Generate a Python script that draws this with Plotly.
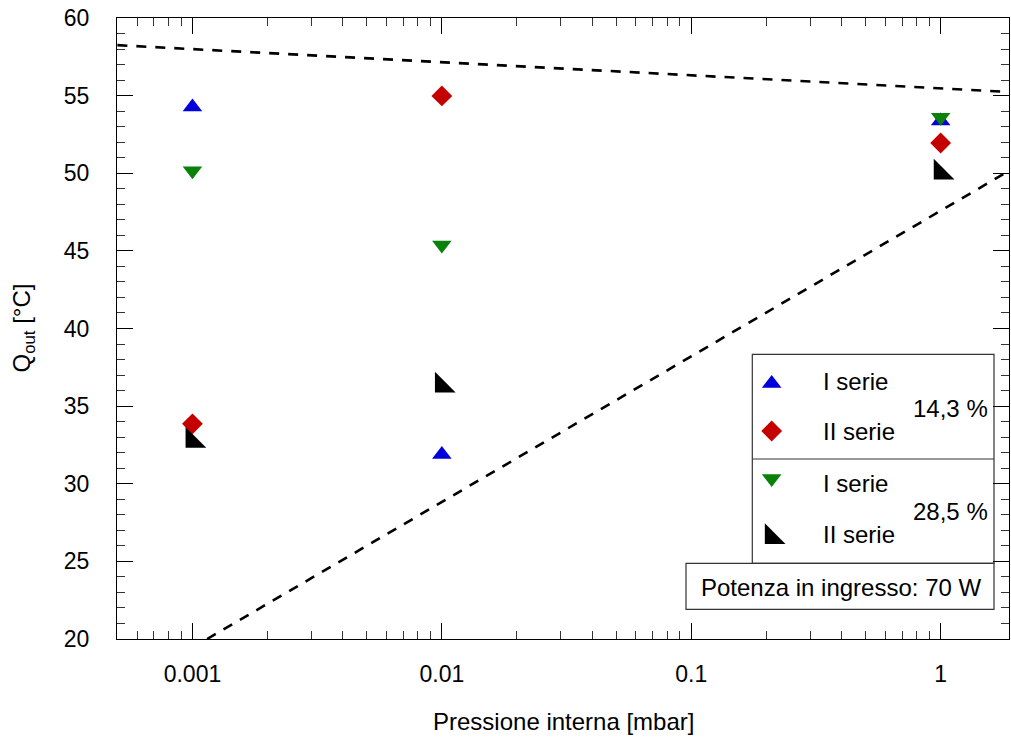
import math
import plotly.graph_objects as go

# ---------------- data ----------------
pressione = [0.001, 0.01, 1]                  # mbar
serie_I_143 = [54.26, 31.89, 53.36]           # I serie, 14,3 %
serie_II_143 = [33.86, 54.98, 51.95]          # II serie, 14,3 %
serie_I_285 = [50.16, 45.38, 53.60]           # I serie, 28,5 %
serie_II_285 = [32.77, 36.32, 50.04]          # II serie, 28,5 %

upper_x = [0.0005, 1.9]
upper_y = [58.25, 55.23]
lower_x = [0.001145, 1.9]
lower_y = [20.0, 50.2]

x_tickvals = [0.001, 0.01, 0.1, 1]
x_ticktext = ["0.001", "0.01", "0.1", "1"]

# ---------------- geometry ----------------
W, H = 1011, 740
L, R, T, B = 117, 1009, 18, 639
FONT = "Liberation Sans, Arial, Helvetica, sans-serif"
FS = 23     # tick labels
FA = 24     # legend / titles

def fx(p):
    return (p - L) / (R - L)

def fy(p):
    return (B - p) / (B - T)

BLUE = "#0000dd"
RED = "#c40000"
GREEN = "#0a820a"
BLACK = "#000000"

fig = go.Figure()

fig.add_trace(go.Scatter(x=upper_x, y=upper_y, mode="lines",
                         line=dict(color="black", width=2.6, dash="10px,9px"),
                         showlegend=False, hoverinfo="skip"))
fig.add_trace(go.Scatter(x=lower_x, y=lower_y, mode="lines",
                         line=dict(color="black", width=2.6, dash="10px,9px"),
                         showlegend=False, hoverinfo="skip"))

series = [
    ("I serie 14,3 %", serie_I_143, "triangle-up", BLUE, 17),
    ("II serie 14,3 %", serie_II_143, "diamond", RED, 16),
    ("I serie 28,5 %", serie_I_285, "triangle-down", GREEN, 17),
    ("II serie 28,5 %", serie_II_285, "triangle-sw", BLACK, 23),
]
for name, vals, sym, col, sz in series:
    fig.add_trace(go.Scatter(x=pressione, y=vals, mode="markers", name=name,
                             marker=dict(symbol=sym, color=col, size=sz, line=dict(width=0)),
                             showlegend=False))

# ---------------- custom legend ----------------
leg_marker_x = 771.7
leg_marker_y = [383.4, 431.0, 478.6, 537.0]
for (name, vals, sym, col, sz), py in zip(series, leg_marker_y):
    fig.add_trace(go.Scatter(x=[fx(leg_marker_x)], y=[fy(py)], xaxis="x2", yaxis="y2",
                             mode="markers", showlegend=False, hoverinfo="skip",
                             marker=dict(symbol=sym, color=col, size=sz, line=dict(width=0))))

shapes = [
    dict(type="rect", xref="paper", yref="paper", x0=fx(752.3), x1=fx(994), y0=fy(563.3), y1=fy(354.3),
         line=dict(color="#333333", width=1.2), fillcolor="white", layer="below"),
    dict(type="line", xref="paper", yref="paper", x0=fx(752.3), x1=fx(994), y0=fy(459), y1=fy(459),
         line=dict(color="#333333", width=1.2)),
    dict(type="rect", xref="paper", yref="paper", x0=fx(686), x1=fx(994), y0=fy(609.3), y1=fy(563.3),
         line=dict(color="#333333", width=1.2), fillcolor="white", layer="below"),
]

ann = []
leg_text = ["I serie", "II serie", "I serie", "II serie"]
leg_text_y = [382, 431.6, 483, 534]
for t, py in zip(leg_text, leg_text_y):
    ann.append(dict(text=t, x=fx(821), y=fy(py), xref="paper", yref="paper",
                    xanchor="left", yanchor="middle", showarrow=False,
                    font=dict(family=FONT, size=FA, color="black")))
for t, py in [("14,3 %", 408.3), ("28,5 %", 511.7)]:
    ann.append(dict(text=t, x=fx(990), y=fy(py), xref="paper", yref="paper",
                    xanchor="right", yanchor="middle", showarrow=False,
                    font=dict(family=FONT, size=FA, color="black")))
ann.append(dict(text="Potenza in ingresso: 70 W", x=fx(841), y=fy(587), xref="paper", yref="paper",
                xanchor="center", yanchor="middle", showarrow=False,
                font=dict(family=FONT, size=FA, color="black")))
ann.append(dict(text="Pressione interna [mbar]", x=0.5, y=fy(721), xref="paper", yref="paper",
                xanchor="center", yanchor="middle", showarrow=False,
                font=dict(family=FONT, size=FA, color="black")))
ann.append(dict(text="Q<sub>out</sub> [°C]", x=fx(23), y=0.5, xref="paper", yref="paper",
                xanchor="center", yanchor="middle", showarrow=False, textangle=-90,
                font=dict(family=FONT, size=FA, color="black")))

minor_x = [k * 10 ** e for e in range(-4, 1) for k in range(2, 10)]

fig.update_layout(
    width=W, height=H,
    margin=dict(l=L, r=W - R, t=T, b=H - B, autoexpand=False),
    paper_bgcolor="white", plot_bgcolor="white",
    font=dict(family=FONT, size=FS, color="black"),
    shapes=shapes, annotations=ann,
    xaxis=dict(type="log", range=[-3.3025, 0.274], tickvals=x_tickvals, ticktext=x_ticktext,
               ticks="inside", ticklen=16, tickwidth=1, tickcolor="black",
               showline=True, linecolor="black", linewidth=1.3, mirror="allticks",
               showgrid=False, zeroline=False, ticklabelstandoff=14,
               minor=dict(tickvals=minor_x, ticks="inside", ticklen=8, tickwidth=1,
                          tickcolor="#333333", showgrid=False),
               tickfont=dict(family=FONT, size=FS, color="black")),
    yaxis=dict(range=[20, 60], dtick=5, tick0=20,
               ticks="inside", ticklen=16, tickwidth=1, tickcolor="black",
               showline=True, linecolor="black", linewidth=1.3, mirror="allticks",
               showgrid=False, zeroline=False, ticklabelstandoff=22,
               minor=dict(dtick=1, ticks="inside", ticklen=8, tickwidth=1,
                          tickcolor="#333333", showgrid=False),
               tickfont=dict(family=FONT, size=FS, color="black")),
    xaxis2=dict(overlaying="x", range=[0, 1], visible=False, fixedrange=True),
    yaxis2=dict(overlaying="y", range=[0, 1], visible=False, fixedrange=True),
    showlegend=False,
)

fig.write_html("out.html", config={"displayModeBar": False},
               post_script="document.body.style.margin='0';document.body.style.overflow='hidden';")
